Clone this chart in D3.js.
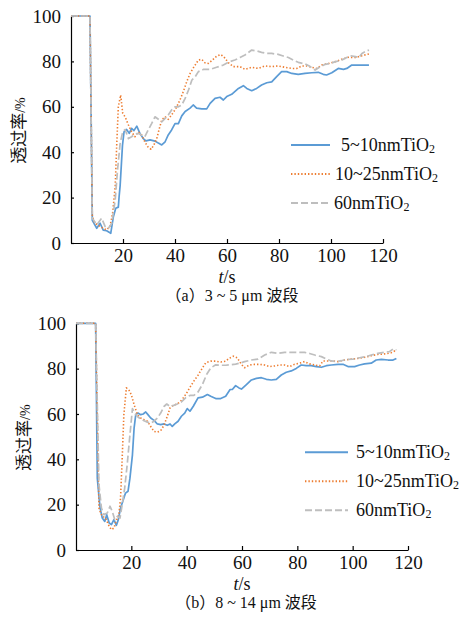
<!DOCTYPE html>
<html>
<head>
<meta charset="utf-8">
<script src="https://cdn.jsdelivr.net/npm/d3@7"></script>
<style>
  body { margin: 0; background: #fff; }
  svg { display: block; }
  .serif { font-family: "Liberation Serif", "Times New Roman", serif; }
</style>
</head>
<body>
<svg></svg>
<script>
// legend / series labels (subscript "2" added when drawn)
const seriesNames = ['5~10nmTiO', '10~25nmTiO', '60nmTiO'];
const xTicks = [20, 40, 60, 80, 100, 120];
const yTicks = [0, 20, 40, 60, 80, 100];
const captions = ['（a）3 ~ 5 μm 波段', '（b）8 ~ 14 μm 波段'];

// (a) 3~5 um : [t, transmittance]
const aBlue = [[0,100],[7.3,100],[8.2,10],[9.9,6.5],[11.2,8.7],[12.4,5.7],[13.7,5.4],[15.3,4.3],[16.3,11.6],[17.2,15.3],[18.2,15.8],[18.5,20.4],[18.9,25.3],[19.8,43],[20.4,49],[21.4,50],[22.4,48.3],[23.3,50.5],[24.2,49.5],[25.3,51.5],[26.5,48.3],[27.8,46],[28.8,45],[30.4,45.4],[32.3,44.9],[33.6,44],[34.9,43.2],[36.2,44.6],[37.4,47.6],[38.7,49.8],[40,52.6],[41.3,52.6],[42.6,56],[43.9,57.9],[45.8,59.4],[47,60.8],[48.3,59.4],[50.3,59.1],[52.2,59.1],[53.5,61.5],[55.4,63.7],[57.3,64.2],[58.6,63],[59.9,64.5],[61.8,65.5],[64.4,68.1],[66.3,69.3],[67.6,68.1],[69.5,67.1],[71.4,68.1],[73.3,69.6],[75.3,70.6],[77.2,71],[79.1,73.3],[81,75.5],[83,75.5],[84.9,74.7],[87.4,74.3],[90,74.7],[92.6,75],[95.1,75.2],[97,74.3],[98.3,74],[100.3,75],[102.8,76.9],[104.8,76.5],[106.1,76.9],[108,78.4],[110.5,78.4],[114.6,78.4]];
const aOrange = [[0,100],[7.3,100],[8.2,11.6],[9.2,8.7],[11.2,7.3],[12.4,6.5],[13.7,5.8],[15,7.3],[16,13.1],[17,24.8],[17.6,43.6],[18.2,60],[19.1,65.2],[19.9,57.1],[20.8,55.6],[22.1,52],[23.3,49],[24.6,46.8],[25.9,49],[27.2,47.5],[28.4,44.6],[29.7,42.1],[30.8,41.3],[31.9,43.2],[33,46.1],[34,50.5],[34.9,54.2],[36.2,55.6],[37.4,54.5],[38.7,56.4],[40.4,59.4],[41.9,63],[43.2,66.7],[44.5,71],[45.8,74.7],[47.3,77.6],[49,80.6],[50.3,80.9],[51.5,79.4],[52.8,79.1],[54.1,80.3],[56,82.3],[57.6,83],[58.8,82],[60.5,79.5],[62.4,77.7],[65,77.7],[66.9,76.5],[69.5,77.4],[72,76.9],[74.6,78],[77.2,77.7],[79.7,78],[82.3,77.4],[84.9,76.9],[86.8,76.9],[88.8,78],[90.7,78],[92.6,77.4],[94.6,76.9],[96.5,78.4],[99.1,79.1],[101.7,79.9],[104.2,81],[106.8,81.8],[109.4,81.7],[111.9,82.5],[114.6,83.3]];
const aGray = [[0,100],[7.3,100],[8.2,10.9],[9.9,8],[11.8,10.9],[13.1,7.3],[14.4,6.5],[15.7,8.7],[17,19],[17.9,32.2],[18.9,43.9],[19.9,49],[20.8,50],[22.1,46],[23.3,46.8],[24.6,47.9],[25.9,48.3],[27.2,47.5],[28.4,46.8],[29.7,49.8],[31,52.6],[32.3,55.6],[33.6,54.5],[34.9,53.4],[36.2,54.9],[37.4,56.4],[38.7,58.6],[40,60],[41.3,60],[42.6,60.8],[43.9,63.7],[45.2,67.4],[46.5,71.8],[47.8,73.3],[49,75.5],[51,76.5],[53.5,76.5],[56,77.4],[58.6,78.4],[60.9,79.8],[63,80.6],[65,81.7],[66.9,82.8],[69.5,85],[71.4,84.6],[73.3,84],[75.3,83.5],[77.2,83.5],[79.7,83.1],[81.6,82.4],[83.6,81.7],[85.5,80.6],[87.4,79.6],[90,78.9],[92,77.7],[93.9,76.2],[95.9,77.7],[97.8,78.7],[99.7,79.1],[101.7,79.9],[103.6,80.3],[105.5,81.4],[107.5,82.5],[109.4,82.1],[110.7,81.7],[111.9,83.5],[113.2,84.3],[114.6,85]];

// (b) 8~14 um
const bBlue = [[0,100],[7.1,100],[7.7,31.7],[8.7,18.5],[9.5,14.1],[10.4,12.6],[11.1,15.6],[12,11.9],[12.8,11.2],[13.7,13.4],[14.6,10.9],[15.3,13.4],[16.1,18.5],[17.1,22.2],[17.9,25.1],[18.8,25.9],[19.5,31.7],[20.4,42],[21,53.8],[21.6,59.7],[22.4,60.4],[23.4,59.7],[24.3,60],[25.2,60.9],[26,59.7],[27,58.2],[28.2,57.2],[29.4,55.6],[30.6,55.3],[31.8,55.6],[33,55],[34,55.6],[34.8,54.5],[35.7,55.6],[36.9,56.8],[38.1,59],[39.3,60.4],[40.2,62.4],[41.2,61.2],[42.4,63.4],[44.1,67.1],[45.7,67.4],[47.5,68.6],[48.7,67.8],[50.5,66.8],[52.3,66.8],[54.1,67.8],[55.7,70.8],[56.5,70.8],[57.7,72.5],[58.9,71.5],[59.8,71],[61.6,73],[63.4,75],[65.2,75.7],[67,76],[68.8,75.3],[70.6,75],[72.4,75.3],[74.2,77.2],[76,78.4],[77.8,79],[79.6,80.1],[81.4,81.6],[83.2,81.3],[85,81.3],[86.9,80.9],[88.7,80.6],[90.5,81.3],[92.3,81.6],[94.7,81.9],[96.5,81.9],[98.3,80.9],[100.7,80.9],[102.5,81.6],[104.3,82.1],[106.7,82.4],[108.5,83.8],[110.4,84.1],[112.8,83.8],[114.6,83.8],[115.8,84.5]];
const bOrange = [[0,100],[7.1,100],[8.3,18.5],[8.7,17],[9.5,14.9],[10.7,14.1],[12,10.4],[12.8,9],[13.7,9.7],[14.7,13.4],[15.5,15.6],[16.1,22.9],[16.7,40.6],[17.3,59.7],[18.2,71.5],[19.1,70.7],[20,68.5],[21,64.1],[22.2,59.7],[23.4,58.2],[24.6,57.5],[25.8,56.8],[27,54.5],[28.2,52.3],[29.4,52],[30.6,52.6],[31.8,55],[33,59],[34,62.7],[35.2,63.9],[36.6,64.4],[37.8,65.6],[39,67.4],[40.2,69.7],[41.4,72.2],[42.6,74.5],[44.1,77.1],[45.7,80.3],[46.9,82.6],[48.7,83.3],[50.5,83.3],[52.3,82.9],[54.1,83.3],[55.3,84.5],[56.9,85.5],[58.3,84.8],[59.7,82],[60.9,80.4],[62.7,81.6],[64.6,81.9],[66.4,81.9],[68.2,81.6],[70,80.9],[71.8,81.2],[73.6,81.6],[75.4,81.6],[77.2,80.9],[79,81.9],[80.8,82.4],[82.6,83.1],[84.4,82.1],[86.3,81.6],[88.1,81.2],[89.3,83.4],[91.1,83.4],[92.9,83.4],[94.7,83.1],[97.1,83.8],[99.5,84.2],[101.9,84.5],[104.3,85],[106.7,85.7],[109.1,86.3],[111.5,86.5],[113.9,87],[115.8,88.2]];
const bGray = [[0,100],[7.1,100],[8.3,28.8],[9.2,18.5],[10.1,15.6],[11.3,16.3],[12.3,19.3],[13.1,17],[14,13.4],[14.9,14.8],[15.9,14.1],[16.7,20],[17.6,27.3],[18.5,37.6],[19.5,50.8],[20.4,62.4],[21.2,60.4],[22.2,58.9],[23.4,57.8],[24.6,57],[25.8,56.4],[27,56],[28.2,56.8],[29.4,58.2],[30.6,60.4],[31.8,63.3],[32.8,64.4],[34,63.3],[35.3,63.8],[36.6,64.4],[38.1,65.3],[39.6,67.1],[41.2,68.2],[42.6,68.2],[44.1,69.7],[45.7,73],[47.2,77.4],[48.7,80.3],[50.5,81.7],[52.3,81.5],[54.1,81.5],[55.9,81.7],[57.7,82],[59.5,82.5],[60.9,83.1],[63.4,83.8],[65.8,84.2],[68.2,86],[70.6,87.2],[73,86.7],[75.4,87.2],[77.8,87.2],[80.2,87.2],[82.6,87.2],[84.4,86.7],[86.3,86],[88.7,85.3],[90.5,84.2],[92.3,83.4],[94.1,83.1],[95.9,83.5],[97.7,84.1],[100.1,84.2],[102.5,84.8],[104.9,85.3],[106.7,86],[109.1,86.7],[111.5,87.2],[113.3,87.5],[114.6,88.7],[115.8,88.2]];

const serif = '"Liberation Serif", "Times New Roman", serif';
const cjk = '"Noto Sans CJK SC", sans-serif';
const styles = [
  {color: '#5B9BD5', dash: null, width: 1.7},
  {color: '#ED7D31', dash: '1.4,2', width: 1.6},
  {color: '#BEBEBE', dash: '7,3', width: 1.7}
];

const svg = d3.select('svg')
  .attr('width', 465)
  .attr('height', 618)
  .style('background-color', '#fff');

const panels = [
  {left: 71, right: 383, top: 16, bottom: 243, data: [aBlue, aOrange, aGray],
   legX: [291, 330], legTextX: [341, 335, 334], caption: captions[0], capDx: 5},
  {left: 76, right: 408, top: 323.3, bottom: 550, data: [bBlue, bOrange, bGray],
   legX: [305, 348], legTextX: [356, 356, 356], caption: captions[1], capDx: 4}
];

const drawPanel = p => {
  const x = d3.scaleLinear().domain([0, 120]).range([p.left, p.right]);
  const y = d3.scaleLinear().domain([0, 100]).range([p.bottom, p.top]);
  const g = svg.append('g');

  const yAxis = g.append('g')
    .attr('transform', `translate(${p.left},0)`)
    .call(d3.axisLeft(y).tickValues(yTicks).tickSize(-3).tickSizeOuter(0).tickPadding(10));
  const xAxis = g.append('g')
    .attr('transform', `translate(0,${p.bottom})`)
    .call(d3.axisBottom(x).tickValues(xTicks).tickSize(-4).tickSizeOuter(0).tickPadding(6));

  [yAxis, xAxis].forEach(a => {
    a.attr('font-family', null).attr('font-size', null);
    a.selectAll('path, line').attr('stroke', '#000').attr('stroke-width', 1.2);
    a.selectAll('text')
      .attr('class', 'serif')
      .style('font-size', '19px')
      .attr('fill', '#111');
  });

  const line = d3.line().x(d => x(d[0])).y(d => y(d[1]));
  p.data.forEach((s, i) => {
    g.append('path')
      .datum(s)
      .attr('d', line)
      .attr('fill', 'none')
      .attr('stroke', styles[i].color)
      .attr('stroke-width', styles[i].width)
      .attr('stroke-dasharray', styles[i].dash)
      .attr('stroke-linejoin', 'round');
  });

  // legend
  seriesNames.forEach((name, i) => {
    const ly = p.top + 129 + i * 29;
    g.append('line')
      .attr('x1', p.legX[0]).attr('x2', p.legX[1])
      .attr('y1', ly).attr('y2', ly)
      .attr('stroke', styles[i].color)
      .attr('stroke-width', styles[i].width + 0.3)
      .attr('stroke-dasharray', styles[i].dash);
    const t = g.append('text')
      .attr('class', 'serif')
      .attr('x', p.legTextX[i]).attr('y', ly + 6)
      .style('font-size', '18px').attr('fill', '#111');
    t.append('tspan').text(name);
    t.append('tspan').style('font-size', '12px').attr('dy', 2).text('2');
  });

  // axis titles
  const yt = g.append('text')
    .attr('transform', `translate(${p.left - 46},${(p.top + p.bottom) / 2 + 1}) rotate(-90)`)
    .attr('text-anchor', 'middle')
    .attr('fill', '#111');
  yt.append('tspan').style('font-family', cjk).style('font-size', '17px').text('透过率');
  yt.append('tspan').style('font-family', serif).style('font-size', '14px').text('/%');

  const xt = g.append('text')
    .attr('class', 'serif')
    .attr('x', (p.left + p.right) / 2).attr('y', p.bottom + 40)
    .attr('text-anchor', 'middle')
    .style('font-size', '18px').attr('fill', '#111');
  xt.append('tspan').style('font-style', 'italic').text('t');
  xt.append('tspan').text('/s');

  g.append('text')
    .attr('x', (p.left + p.right) / 2 + p.capDx).attr('y', p.bottom + 58)
    .attr('text-anchor', 'middle')
    .style('font-family', `${serif}, ${cjk}`)
    .style('font-size', '16px').attr('fill', '#111')
    .text(p.caption);
};

panels.forEach(drawPanel);
</script>
</body>
</html>
